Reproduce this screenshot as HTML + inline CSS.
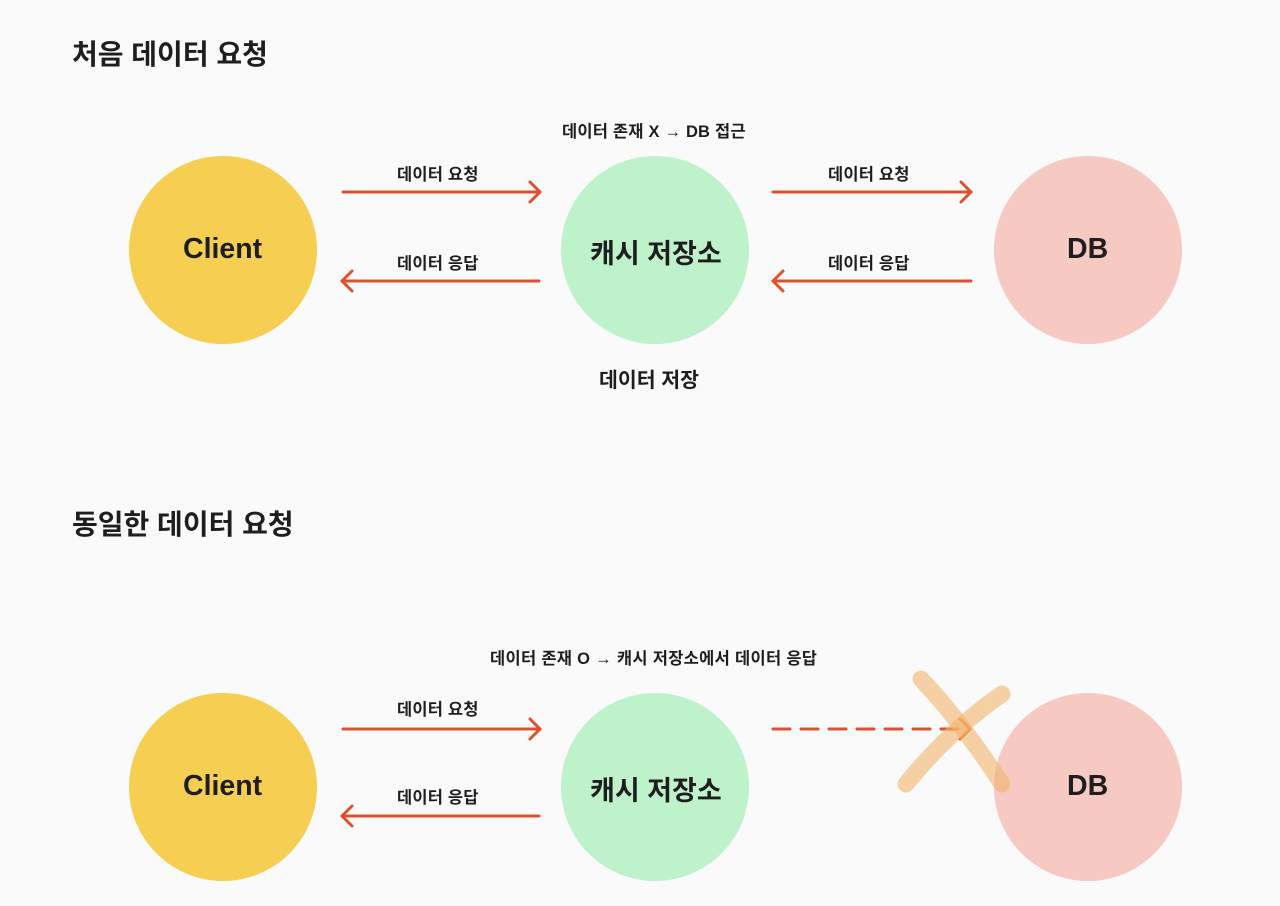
<!DOCTYPE html>
<html><head><meta charset="utf-8"><style>
html,body{margin:0;padding:0;background:#fafafa;}
body{width:1280px;height:906px;position:relative;overflow:hidden;font-family:"Liberation Sans","Noto Sans CJK KR",sans-serif;color:#1e1e1e;}
.t{position:absolute;white-space:nowrap;font-weight:bold;}
</style></head><body>
<svg width="1280" height="906" style="position:absolute;left:0;top:0">
<defs>
<marker id="a" markerWidth="14" markerHeight="24" refX="12" refY="12" orient="auto" markerUnits="userSpaceOnUse">
<path d="M2,2 L12,12 L2,22" fill="none" stroke="#e0502f" stroke-width="3" stroke-linecap="round" stroke-linejoin="round"/></marker>
</defs>
<circle cx="223" cy="250" r="94" fill="#f5ce52"/>
<circle cx="655" cy="250" r="94" fill="#bef2cb"/>
<circle cx="1088" cy="250" r="94" fill="#f6c9c3"/>
<circle cx="223" cy="787" r="94" fill="#f5ce52"/>
<circle cx="655" cy="787" r="94" fill="#bef2cb"/>
<circle cx="1088" cy="787" r="94" fill="#f6c9c3"/>
<g stroke="#e0502f" stroke-width="3" stroke-linecap="round" fill="none">
<line x1="343" y1="192" x2="540" y2="192" marker-end="url(#a)"/>
<line x1="539" y1="281" x2="342" y2="281" marker-end="url(#a)"/>
<line x1="773" y1="192" x2="971" y2="192" marker-end="url(#a)"/>
<line x1="971" y1="281" x2="773" y2="281" marker-end="url(#a)"/>
<line x1="343" y1="729" x2="540" y2="729" marker-end="url(#a)"/>
<line x1="539" y1="816" x2="342" y2="816" marker-end="url(#a)"/>
<line x1="773" y1="729" x2="970" y2="729" stroke-dasharray="17,11" marker-end="url(#a)"/>
</g>
<g stroke="#f2b46a" stroke-opacity="0.6" stroke-width="17" stroke-linecap="round" fill="none">
<path d="M921,679 Q960,720 1002,784"/>
<path d="M1002,694 Q950,730 906,784"/>
</g>
</svg>
<div class="t" style="left:72px;top:33px;font-size:28px">처음 데이터 요청</div>
<div class="t" style="left:72px;top:503px;font-size:28px">동일한 데이터 요청</div>
<div class="t" style="left:562px;top:118px;font-size:16.5px;letter-spacing:0.2px">데이터 존재 X → DB 접근</div>
<div class="t" style="left:490px;top:645px;font-size:16.5px;letter-spacing:0.3px">데이터 존재 O → 캐시 저장소에서 데이터 응답</div>
<div class="t" style="left:397px;top:161px;font-size:16.5px;letter-spacing:0.2px">데이터 요청</div>
<div class="t" style="left:397px;top:250px;font-size:16.5px;letter-spacing:0.2px">데이터 응답</div>
<div class="t" style="left:828px;top:161px;font-size:16.5px;letter-spacing:0.2px">데이터 요청</div>
<div class="t" style="left:828px;top:250px;font-size:16.5px;letter-spacing:0.2px">데이터 응답</div>
<div class="t" style="left:397px;top:696px;font-size:16.5px;letter-spacing:0.2px">데이터 요청</div>
<div class="t" style="left:397px;top:784px;font-size:16.5px;letter-spacing:0.2px">데이터 응답</div>
<div class="t" style="left:599px;top:363px;font-size:20.5px">데이터 저장</div>
<div class="t" style="left:183px;top:233px;font-size:28.5px">Client</div>
<div class="t" style="left:590px;top:232px;font-size:27px">캐시 저장소</div>
<div class="t" style="left:1067px;top:233px;font-size:28.5px">DB</div>
<div class="t" style="left:183px;top:770px;font-size:28.5px">Client</div>
<div class="t" style="left:590px;top:769px;font-size:27px">캐시 저장소</div>
<div class="t" style="left:1067px;top:770px;font-size:28.5px">DB</div>
</body></html>
